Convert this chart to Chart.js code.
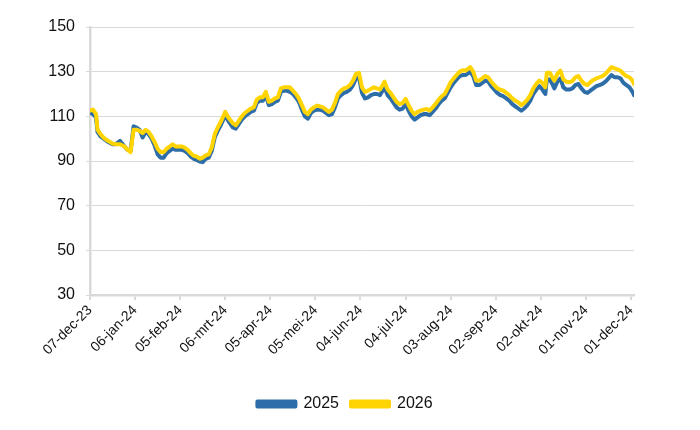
<!DOCTYPE html>
<html>
<head>
<meta charset="utf-8">
<script src="https://cdn.jsdelivr.net/npm/chart.js@4.4.1/dist/chart.umd.min.js"></script>
<style>
  html, body { margin: 0; padding: 0; background: #ffffff; }
  #wrap { width: 700px; height: 430px; position: relative; }
</style>
</head>
<body>
<div id="wrap"><canvas id="c" width="700" height="430"></canvas></div>
<script>
// Days since 07-dec-23 for each observation
const dayOffsets = [0,2,4,5,7,9,12,15,17,20,23,25,27,29,31,33,35,37,39,41,43,45,47,49,51,53,55,57,59,61,63,65,67,69,71,73,75,77,79,81,83,85,87,89,90,92,95,97,99,101,103,105,107,109,111,113,115,117,119,121,123,125,127,129,131,133,135,137,139,141,143,145,147,149,151,153,155,157,159,161,163,165,167,169,171,173,175,177,179,181,183,185,187,189,191,193,196,198,200,202,204,206,208,210,212,214,216,218,220,222,224,226,228,230,232,234,236,238,240,242,244,246,248,250,252,253,255,257,259,261,263,265,267,269,271,273,275,277,279,281,283,285,287,289,291,293,295,297,299,301,303,304,306,308,309,311,313,315,317,319,321,323,325,327,329,331,333,335,337,339,341,343,345,347,349,351,353,355,357,359,361,362];

const series2025 = [111.5,111,109.5,103,101,100,98.5,97.5,97.5,99,96.5,95,94.5,105.5,105,104,100.5,103,102,100,97,93,91.5,91.5,93.5,94.5,95.5,95,95,95,94.5,93.5,92,91,90.5,89.8,89.5,91,91.5,94.5,100.5,103.5,106,109,110.5,108,105,104.5,106.5,108.5,110,111,112,112.5,116,117,117,119.5,115,115.5,116.5,117,121,121.5,121.5,121,120,118.5,116.5,113,110,109,111.5,112.5,113,113,112.5,111.5,110.5,111,114,118,119.5,120.5,121,122,124,127,127.5,120.5,118,118.5,119.5,120,120,119.5,123,119.5,118,116,114,113,113.5,115.5,112.5,110,108.5,109.5,110.5,111,111,110.5,112,113.5,115.5,117,118,120.5,123,125,126.5,128,128.5,128.5,129.5,130,128,124,124,125,126,125.5,123.5,122,120.5,119.5,119,118,117,115.5,114.5,113.5,112.5,113.5,115,117,120,122,123.5,122,120,126.5,126.5,124,122.5,125.5,127,123,122,122,122.5,124,124.5,122.5,121,120.5,121.5,122.5,123.5,124,124.5,125.5,127,128.5,127.5,127.5,127,125,124,123,121,119.5];

const series2026 = [112.5,113,111,104,102,100.5,99,97.8,97.5,97.5,96.5,95,94,104,104,103.5,102.5,104,103,101,98.5,95.5,94,94,95.5,96.5,97.5,96.5,96.5,96.5,96,95,93.5,92.3,92,91,91.5,92.5,93,96,102,105,107.5,110.5,112,109.5,107,106,108,110,111.5,112.5,113.5,114,117.5,118.5,118.5,121,116.5,117,118,118.5,122.5,123,123,123,121.5,120,118,115,112,111,113,114,114.8,114.5,114,113,112,113,116,120,121.5,122.5,123,124,126,129,129.5,123,121,121.5,122.3,123,122.5,122,125.5,122,120.5,118.5,116.5,115.5,116,117.8,115,112.5,111,112,112.6,113,113.3,112.6,114,115.6,117.5,119,120,122.5,125.3,127,128.5,130,130.6,130.5,131.5,132,130,126,126,127,128,127.5,125.5,124,122.5,122,121.5,120.5,119.5,118,117,116.3,115,116,117.5,119.5,122.5,124.5,126,125,123,129.5,129.5,127,126,129,130.5,126.5,125.5,125.3,125.8,127.5,128,126,124.5,124,125.3,126.3,127,127.5,128,129,130.5,132,131.5,131,130.5,129,128,127.5,126,124.5];

const seriesNames = ['2025', '2026'];
const tickDays = [0,30,60,90,120,150,180,210,240,270,300,330,360];
const tickLabels = ['07-dec-23','06-jan-24','05-feb-24','06-mrt-24','05-apr-24','05-mei-24','04-jun-24','04-jul-24','03-aug-24','02-sep-24','02-okt-24','01-nov-24','01-dec-24'];
const yTicks = [30,50,70,90,110,130,150];

const toPts = (vals) => vals.map((v, i) => ({ x: dayOffsets[i], y: v }));

const FONT = "'Liberation Sans', Arial, sans-serif";
const BLUE = '#2e6ea8';
const YELLOW = '#ffd400';
const GRID = '#d9d9d9';

new Chart(document.getElementById('c'), {
  type: 'line',
  data: {
    datasets: [
      { label: seriesNames[0], data: toPts(series2025), borderColor: BLUE, backgroundColor: BLUE,
        borderWidth: 4, pointRadius: 0, tension: 0, order: 1,
        borderJoinStyle: 'round', borderCapStyle: 'round' },
      { label: seriesNames[1], data: toPts(series2026), borderColor: YELLOW, backgroundColor: YELLOW,
        borderWidth: 4, pointRadius: 0, tension: 0, order: 0,
        borderJoinStyle: 'round', borderCapStyle: 'round' }
    ]
  },
  options: {
    responsive: false,
    animation: false,
    devicePixelRatio: 1,
    layout: { padding: { left: 0, right: 10, top: 27, bottom: 8 } },
    plugins: {
      tooltip: { enabled: false },
      legend: {
        position: 'bottom',
        labels: {
          sort: (a, b) => a.datasetIndex - b.datasetIndex,
          boxWidth: 38, boxHeight: 5, padding: 12,
          color: '#111', font: { family: FONT, size: 16 }
        }
      }
    },
    scales: {
      x: {
        type: 'linear', min: 0, max: 362,
        afterBuildTicks: (s) => { s.ticks = tickDays.map(v => ({ value: v })); },
        afterFit: (s) => { s.height = 89; },
        border: { display: true, color: GRID, width: 2.5 },
        grid: { drawOnChartArea: false, drawTicks: true, tickLength: 5, color: GRID, lineWidth: 2 },
        ticks: {
          autoSkip: false, maxRotation: 45, minRotation: 45, padding: 2,
          color: '#111', font: { family: FONT, size: 14 },
          callback: (v) => { const i = tickDays.indexOf(v); return i >= 0 ? tickLabels[i] : ''; }
        }
      },
      y: {
        min: 30, max: 150,
        afterBuildTicks: (s) => { s.ticks = yTicks.map(v => ({ value: v })); },
        afterFit: (s) => { s.width = 90; },
        border: { display: true, color: GRID, width: 2.5 },
        grid: { color: GRID, lineWidth: 1, drawTicks: true, tickLength: 4 },
        ticks: { padding: 11, color: '#111', font: { family: FONT, size: 16 } }
      },
      yRight: {
        position: 'right', min: 30, max: 150,
        afterFit: (s) => { s.width = 56; },
        border: { display: false },
        grid: { drawOnChartArea: false, drawTicks: false },
        ticks: { display: false }
      }
    }
  }
});
</script>
</body>
</html>
